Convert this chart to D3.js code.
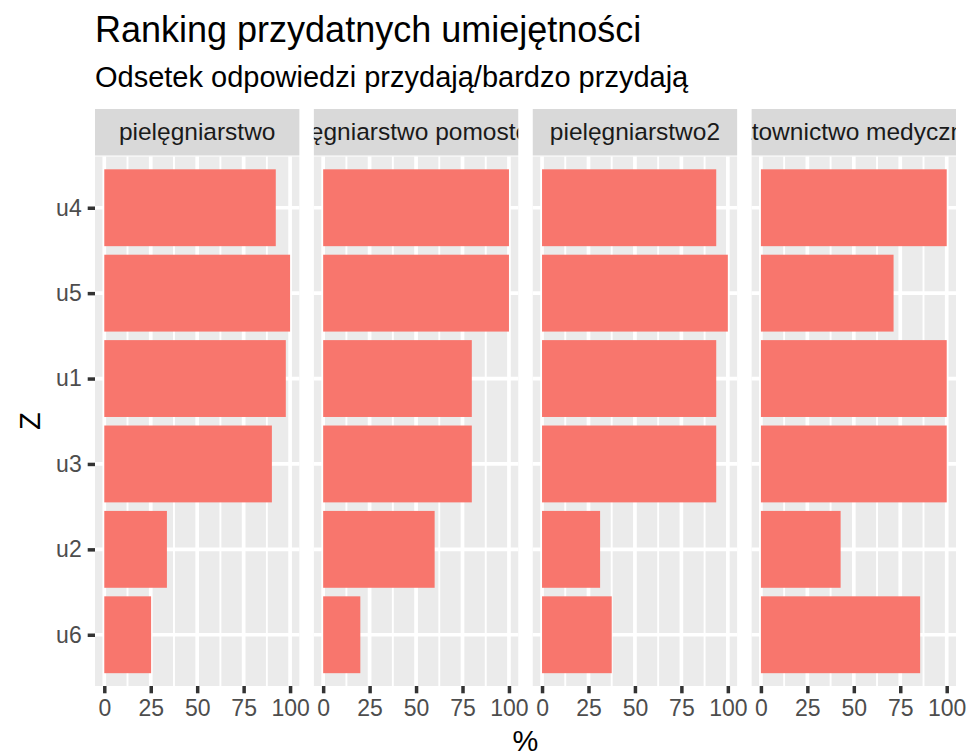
<!DOCTYPE html>
<html lang="pl">
<head>
<meta charset="UTF-8">
<title>Ranking przydatnych umiejętności</title>
<script src="https://d3js.org/d3.v7.min.js"></script>
<style>
    body { margin: 0; background: #fff; }
    svg { display: block; font-family: "Liberation Sans", Arial, sans-serif; }
</style>
</head>
<body>
<script>
    // dane
    const skills = ["u4", "u5", "u1", "u3", "u2", "u6"];
    const facets = ["pielęgniarstwo", "pielęgniarstwo pomostowe", "pielęgniarstwo2", "ratownictwo medyczne"];
    const valPiel = [92.3, 100, 97.7, 90.2, 33.7, 25.2];
    const valPomost = [100, 100, 80, 80, 60, 20];
    const valPiel2 = [93.75, 100, 93.75, 93.75, 31.25, 37.5];
    const valRatow = [100, 71.4, 100, 100, 42.9, 85.7];
    const xTicks = [0, 25, 50, 75, 100];
    const seriesValues = [valPiel, valPomost, valPiel2, valRatow];

    const width = 969, height = 753;
    const plotLeft = 95, plotRight = 956;
    const gap = 14.5;
    const panelW = (plotRight - plotLeft - gap * 3) / 4;
    const stripTop = 109, stripH = 46.5;
    const panelTop = 156.5, panelBottom = 686;

    const svg = d3.select("body").append("svg")
        .attr("width", width)
        .attr("height", height);

    // tytuły
    svg.append("text")
        .attr("x", plotLeft).attr("y", 42)
        .style("font-size", "36px").attr("fill", "#000")
        .text("Ranking przydatnych umiejętności");
    svg.append("text")
        .attr("x", plotLeft).attr("y", 87)
        .style("font-size", "29px").attr("fill", "#000")
        .text("Odsetek odpowiedzi przydają/bardzo przydają");

    const x = d3.scaleLinear().domain([-5, 105]).range([0, panelW]);
    // środek kategorii wg ggplot (expand 0.6)
    const yc = d3.scalePoint().domain(skills).range([panelTop, panelBottom]).padding(0.6);
    const barH = yc.step() * 0.9;

    const defs = svg.append("defs");

    facets.forEach((name, i) => {
        const x0 = plotLeft + i * (panelW + gap);
        const g = svg.append("g").attr("transform", `translate(${x0},0)`);

        // pasek z nazwą
        g.append("rect")
            .attr("x", 0).attr("y", stripTop)
            .attr("width", panelW).attr("height", stripH)
            .attr("fill", "#D9D9D9");
        defs.append("clipPath").attr("id", "clip" + i)
            .append("rect")
            .attr("x", 0).attr("y", stripTop)
            .attr("width", panelW).attr("height", stripH);
        g.append("text")
            .attr("clip-path", `url(#clip${i})`)
            .attr("x", panelW / 2).attr("y", stripTop + stripH / 2 + 8)
            .attr("text-anchor", "middle")
            .style("font-size", "24.5px").attr("fill", "#1A1A1A")
            .text(name);

        // tło panelu
        g.append("rect")
            .attr("x", 0).attr("y", panelTop)
            .attr("width", panelW).attr("height", panelBottom - panelTop)
            .attr("fill", "#EBEBEB");

        // siatka pomocnicza
        const minor = [12.5, 37.5, 62.5, 87.5];
        g.selectAll(".minor").data(minor).enter().append("line")
            .attr("x1", d => x(d)).attr("x2", d => x(d))
            .attr("y1", panelTop).attr("y2", panelBottom)
            .attr("stroke", "#fff").attr("stroke-width", 1.9);

        g.selectAll(".majx").data(xTicks).enter().append("line")
            .attr("x1", d => x(d)).attr("x2", d => x(d))
            .attr("y1", panelTop).attr("y2", panelBottom)
            .attr("stroke", "#fff").attr("stroke-width", 3.7);

        g.selectAll(".majy").data(skills).enter().append("line")
            .attr("x1", 0).attr("x2", panelW)
            .attr("y1", d => yc(d)).attr("y2", d => yc(d))
            .attr("stroke", "#fff").attr("stroke-width", 3.7);

        // słupki
        g.selectAll(".bar").data(skills.map((s, k) => ({ s, v: seriesValues[i][k] })))
            .enter().append("rect")
            .attr("x", x(0))
            .attr("y", d => yc(d.s) - barH / 2)
            .attr("width", d => x(d.v) - x(0))
            .attr("height", barH)
            .attr("fill", "#F8766D");

        // oś X
        const ax = g.append("g")
            .attr("transform", `translate(0,${panelBottom})`)
            .call(d3.axisBottom(x).tickValues(xTicks).tickSize(7.3).tickPadding(6));
        ax.select(".domain").remove();
        ax.selectAll("line").attr("stroke", "#333").attr("stroke-width", 3.5);
        ax.selectAll("text")
            .attr("fill", "#4D4D4D")
            .style("font-size", "23px")
            .style("font-family", "Liberation Sans, Arial, sans-serif")
            .attr("dy", "0.71em");
    });

    // oś Y
    const ay = svg.append("g")
        .attr("transform", `translate(${plotLeft},0)`)
        .call(d3.axisLeft(yc).tickSize(7.3).tickPadding(6));
    ay.select(".domain").remove();
    ay.selectAll("line").attr("stroke", "#333").attr("stroke-width", 3.5);
    ay.selectAll("text")
        .attr("fill", "#4D4D4D")
        .style("font-size", "23px")
        .style("font-family", "Liberation Sans, Arial, sans-serif");

    // tytuły osi
    svg.append("text")
        .attr("x", (plotLeft + plotRight) / 2).attr("y", 751)
        .attr("text-anchor", "middle")
        .style("font-size", "29px").attr("fill", "#000")
        .text("%");
    svg.append("text")
        .attr("transform", `translate(40,${(panelTop + panelBottom) / 2}) rotate(-90)`)
        .attr("text-anchor", "middle")
        .style("font-size", "29px").attr("fill", "#000")
        .text("Z");
</script>
</body>
</html>
